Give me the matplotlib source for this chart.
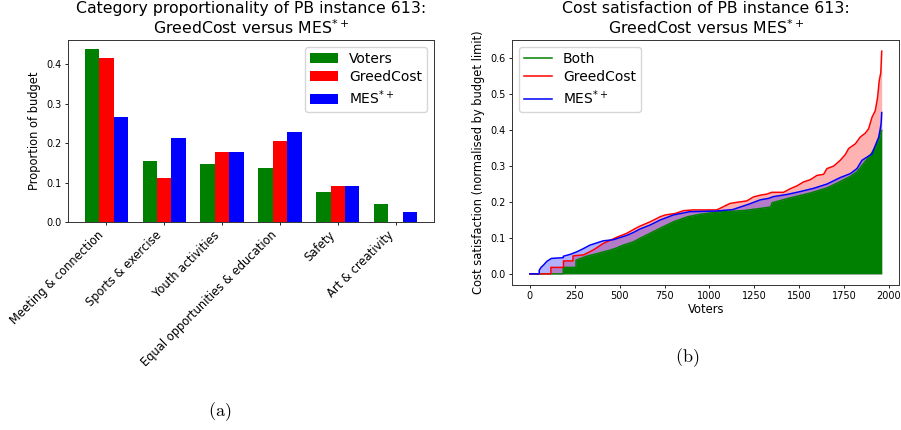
import matplotlib
matplotlib.use("Agg")
import matplotlib.pyplot as plt
import numpy as np

# ---------------- data: panel (a) ----------------
categories = ["Meeting & connection", "Sports & exercise", "Youth activities",
              "Equal opportunities & education", "Safety", "Art & creativity"]
voters_share = [0.439, 0.155, 0.148, 0.138, 0.077, 0.046]
greedcost_share = [0.416, 0.112, 0.178, 0.206, 0.092, 0.0]
mes_share = [0.267, 0.214, 0.178, 0.229, 0.092, 0.026]

# ---------------- data: panel (b) (voter index, cost satisfaction) ----------------
greedcost_curve = [
    (0, 0.0), (117, 0.0), (117, 0.018), (187, 0.018), (187, 0.036), (240, 0.036),
    (240, 0.050), (300, 0.053), (355, 0.067), (410, 0.085), (485, 0.102), (540, 0.113),
    (590, 0.127), (614, 0.133), (670, 0.145), (726, 0.159), (754, 0.164), (809, 0.168),
    (856, 0.176), (911, 0.178), (1041, 0.178), (1078, 0.187), (1115, 0.196), (1152, 0.199),
    (1208, 0.203), (1245, 0.214), (1283, 0.219), (1320, 0.222), (1348, 0.227), (1413, 0.227),
    (1451, 0.237), (1488, 0.245), (1525, 0.256), (1562, 0.262), (1599, 0.274), (1636, 0.277),
    (1655, 0.293), (1692, 0.300), (1729, 0.316), (1757, 0.332), (1776, 0.349), (1813, 0.362),
    (1841, 0.381), (1869, 0.392), (1887, 0.404), (1906, 0.436), (1924, 0.454), (1937, 0.491),
    (1946, 0.537), (1955, 0.560), (1960, 0.620),
]
mes_curve = [
    (0, 0.0), (52, 0.0), (52, 0.010), (62, 0.018), (75, 0.024), (95, 0.035), (120, 0.043),
    (186, 0.045), (186, 0.049), (223, 0.054), (260, 0.061), (297, 0.070), (335, 0.080),
    (372, 0.086), (409, 0.092), (465, 0.095), (502, 0.101), (539, 0.107), (576, 0.115),
    (614, 0.125), (670, 0.136), (726, 0.150), (800, 0.164), (890, 0.173), (1041, 0.175),
    (1130, 0.179), (1220, 0.194), (1283, 0.206), (1329, 0.210), (1357, 0.215), (1432, 0.221),
    (1506, 0.229), (1580, 0.238), (1655, 0.250), (1729, 0.268), (1785, 0.279), (1822, 0.293),
    (1850, 0.316), (1878, 0.325), (1906, 0.334), (1924, 0.357), (1943, 0.380), (1952, 0.404),
    (1957, 0.420), (1960, 0.449),
]
both_curve = [
    (0, 0.0), (186, 0.0), (186, 0.018), (257, 0.018), (257, 0.038), (316, 0.049),
    (372, 0.056), (446, 0.066), (483, 0.072), (520, 0.080), (576, 0.089), (614, 0.099),
    (670, 0.113), (726, 0.127), (800, 0.145), (880, 0.159), (950, 0.166), (1060, 0.173),
    (1190, 0.176), (1283, 0.182), (1340, 0.186), (1350, 0.198), (1432, 0.209), (1488, 0.216),
    (1562, 0.225), (1655, 0.239), (1729, 0.257), (1785, 0.271), (1822, 0.284), (1859, 0.307),
    (1896, 0.330), (1924, 0.353), (1943, 0.371), (1957, 0.399), (1960, 0.399),
]
x_ticks_b = [0, 250, 500, 750, 1000, 1250, 1500, 1750, 2000]

W, H = 901, 430
fig = plt.figure(figsize=(W / 100, H / 100), dpi=100)

def rect(l, t, r, b):
    return [l / W, 1 - b / H, (r - l) / W, (b - t) / H]

spine_c = "#333333"

# ---------------- panel (a) ----------------
ax1 = fig.add_axes(rect(68, 40, 434, 222.3))
x = np.arange(len(categories))
w = 0.25
ax1.bar(x - w, voters_share, w, color="green", label="Voters")
ax1.bar(x, greedcost_share, w, color="red", label="GreedCost")
ax1.bar(x + w, mes_share, w, color="blue", label="MES$^{*+}$")
ax1.set_xticks(x)
ax1.set_xticklabels(categories, rotation=45, ha="right", fontsize=8.3)
ax1.set_yticks([0.0, 0.1, 0.2, 0.3, 0.4])
ax1.tick_params(axis="y", labelsize=6.9)
ax1.set_ylabel("Proportion of budget", fontsize=8.3)
ax1.set_title("Category proportionality of PB instance 613:\nGreedCost versus MES$^{*+}$",
              fontsize=11.3, pad=4)
ax1.legend(loc="upper right", fontsize=10, labelspacing=0.3, borderpad=0.35)

# ---------------- panel (b) ----------------
ax2 = fig.add_axes(rect(512.3, 40, 899.3, 285))
gx, gy = zip(*greedcost_curve)
mx, my = zip(*mes_curve)
bx, by = zip(*both_curve)
ax2.fill_between(gx, 0, gy, color="red", alpha=0.3, lw=0)
ax2.fill_between(mx, 0, my, color="blue", alpha=0.3, lw=0)
ax2.fill_between(bx, 0, by, color="green", lw=0)
ax2.plot(bx, by, color="green", lw=1.1, label="Both")
ax2.plot(gx, gy, color="red", lw=1.1, label="GreedCost")
ax2.plot(mx, my, color="blue", lw=1.1, label="MES$^{*+}$")
ax2.set_xticks(x_ticks_b)
ax2.set_yticks([0.0, 0.1, 0.2, 0.3, 0.4, 0.5, 0.6])
ax2.tick_params(labelsize=7)
ax2.set_xlabel("Voters", fontsize=8.3, labelpad=1)
ax2.set_ylabel("Cost satisfaction (normalised by budget limit)", fontsize=8.3)
ax2.set_title("Cost satisfaction of PB instance 613:\nGreedCost versus MES$^{*+}$",
              fontsize=11.3, pad=4)
ax2.legend(loc="upper left", fontsize=10, labelspacing=0.3, borderpad=0.35)

for ax in (ax1, ax2):
    for s in ax.spines.values():
        s.set_color(spine_c)
        s.set_linewidth(0.7)
    ax.tick_params(length=2.5, width=0.6, pad=2)

fig.text(220 / W, 1 - 412 / H, r"$\mathrm{(a)}$", fontsize=13, ha="center", va="center",
         math_fontfamily="cm")
fig.text(687 / W, 1 - 358 / H, r"$\mathrm{(b)}$", fontsize=13, ha="center", va="center",
         math_fontfamily="cm")

fig.savefig("out.png", dpi=100)
